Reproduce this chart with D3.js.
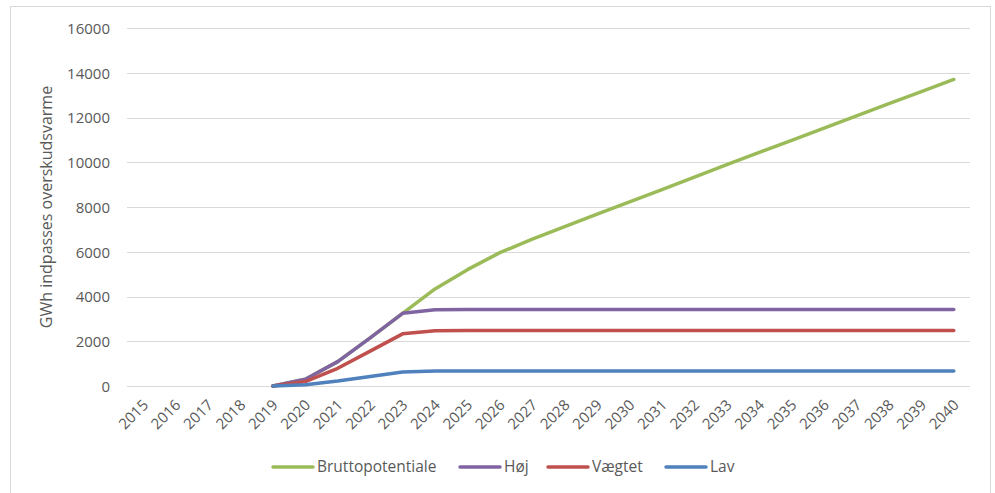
<!DOCTYPE html>
<html>
<head>
<meta charset="utf-8">
<script src="https://cdn.jsdelivr.net/npm/d3@7"></script>
<style>
  html, body { margin: 0; padding: 0; background: #fff; }
  svg text { font-family: "Open Sans", "DejaVu Sans", sans-serif; fill: #595959; }
</style>
</head>
<body>
<svg id="chart" width="995" height="493"></svg>
<script>
// Years on the category axis
const years = ["2015","2016","2017","2018","2019","2020","2021","2022","2023","2024","2025","2026","2027",
  "2028","2029","2030","2031","2032","2033","2034","2035","2036","2037","2038","2039","2040"];

// GWh per year for each scenario (null = no value)
const brutto = [null,null,null,null,0,300,1090,2150,3250,4340,5200,5960,6560,
  7120,7680,8230,8780,9340,9890,10440,10980,11530,12070,12620,13160,13700];
const hoj = [null,null,null,null,0,300,1090,2150,3250,3410,3420,3420,3420,
  3420,3420,3420,3420,3420,3420,3420,3420,3420,3420,3420,3420,3420];
const vaegtet = [null,null,null,null,0,200,790,1560,2330,2470,2480,2480,2480,
  2480,2480,2480,2480,2480,2480,2480,2480,2480,2480,2480,2480,2480];
const lav = [null,null,null,null,0,60,220,420,630,670,670,670,670,
  670,670,670,670,670,670,670,670,670,670,670,670,670];

const seriesNames = ["Bruttopotentiale", "Høj", "Vægtet", "Lav"];
const seriesValues = [brutto, hoj, vaegtet, lav];
const seriesColors = ["#9BBB59", "#8064A2", "#C0504D", "#4F81BD"];

const yTicks = [0, 2000, 4000, 6000, 8000, 10000, 12000, 14000, 16000];

const svg = d3.select("#chart");
const margin = { left: 127, right: 970, top: 28, bottom: 386 };

// Outer chart frame
svg.append("rect")
  .attr("x", 10.5).attr("y", 6.5)
  .attr("width", 980).attr("height", 500)
  .attr("fill", "#fff").attr("stroke", "#D9D9D9").attr("stroke-width", 1);

const x = d3.scaleBand().domain(years).range([margin.left, margin.right]);
const y = d3.scaleLinear().domain([0, 16000]).range([margin.bottom, margin.top]);

// Horizontal gridlines
svg.append("g")
  .selectAll("line")
  .data(yTicks)
  .join("line")
  .attr("x1", margin.left).attr("x2", margin.right)
  .attr("y1", d => Math.round(y(d)) + 0.5).attr("y2", d => Math.round(y(d)) + 0.5)
  .attr("stroke", "#D9D9D9").attr("stroke-width", 1);

// Y axis labels
const yAxis = d3.axisLeft(y).tickValues(yTicks).tickSize(0).tickPadding(0).tickFormat(d3.format("d"));
const gy = svg.append("g").attr("transform", `translate(110,0)`).call(yAxis);
gy.select(".domain").remove();
gy.selectAll("text")
  .style("font-size", "15px")
  .style("font-family", "'Open Sans', sans-serif")
  .attr("fill", "#595959")
  .attr("dy", "0.35em");

// X axis labels, rotated
const xAxis = d3.axisBottom(x).tickSize(0).tickPadding(0);
const gx = svg.append("g").attr("transform", `translate(0,${margin.bottom})`).call(xAxis);
gx.select(".domain").remove();
gx.selectAll("text")
  .style("font-size", "15px")
  .style("font-family", "'Open Sans', sans-serif")
  .attr("fill", "#595959")
  .attr("text-anchor", "end")
  .attr("dy", null)
  .attr("y", 0)
  .attr("transform", "translate(6,20) rotate(-45)");

// Y axis title
svg.append("text")
  .attr("transform", `translate(52,${(margin.top + margin.bottom) / 2}) rotate(-90)`)
  .attr("text-anchor", "middle")
  .style("font-size", "16px")
  .text("GWh indpasses overskudsvarme");

// Series lines
const line = d3.line()
  .defined(d => d != null)
  .x((d, i) => x(years[i]) + x.bandwidth() / 2)
  .y(d => y(d));

seriesValues.forEach((vals, k) => {
  svg.append("path")
    .datum(vals)
    .attr("fill", "none")
    .attr("stroke", seriesColors[k])
    .attr("stroke-width", 3.5)
    .attr("stroke-linejoin", "round")
    .attr("stroke-linecap", "round")
    .attr("d", line);
});

// Legend
const legendX = [273, 460, 548, 666];
const legend = svg.append("g");
seriesNames.forEach((name, k) => {
  const g = legend.append("g").attr("transform", `translate(${legendX[k]},467)`);
  g.append("line")
    .attr("x1", 0).attr("x2", 40).attr("y1", 0).attr("y2", 0)
    .attr("stroke", seriesColors[k]).attr("stroke-width", 3.5).attr("stroke-linecap", "round");
  g.append("text")
    .attr("x", 44).attr("y", 0).attr("dy", "0.35em")
    .style("font-size", "15.5px")
    .text(name);
});
</script>
</body>
</html>
